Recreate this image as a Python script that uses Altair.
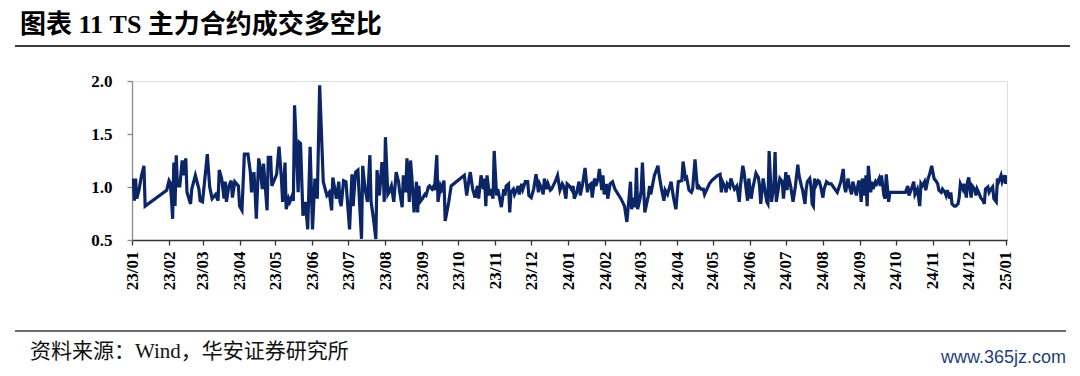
import altair as alt
import pandas as pd

# ---------------- data ----------------
dates = [
    "2023-01-02", "2023-01-03", "2023-01-04", "2023-01-05", "2023-01-07", "2023-01-09", "2023-01-11", "2023-01-12",
    "2023-01-30", "2023-02-01", "2023-02-02", "2023-02-03", "2023-02-04", "2023-02-05", "2023-02-06", "2023-02-07",
    "2023-02-08", "2023-02-10", "2023-02-12", "2023-02-13", "2023-02-15", "2023-02-16", "2023-02-19", "2023-02-20",
    "2023-02-23", "2023-02-26", "2023-02-27",
    "2023-03-01", "2023-03-05", "2023-03-07", "2023-03-09", "2023-03-12", "2023-03-14", "2023-03-15", "2023-03-17",
    "2023-03-19", "2023-03-20", "2023-03-21", "2023-03-23", "2023-03-25", "2023-03-26", "2023-03-28", "2023-03-31",
    "2023-04-01", "2023-04-03", "2023-04-05", "2023-04-08", "2023-04-10", "2023-04-11", "2023-04-13", "2023-04-14",
    "2023-04-15", "2023-04-17", "2023-04-18", "2023-04-20", "2023-04-21", "2023-04-22", "2023-04-24", "2023-04-25",
    "2023-04-27", "2023-04-28",
    "2023-05-02", "2023-05-04", "2023-05-06", "2023-05-07", "2023-05-09", "2023-05-10", "2023-05-12", "2023-05-13",
    "2023-05-15", "2023-05-16", "2023-05-17", "2023-05-20", "2023-05-21", "2023-05-22", "2023-05-24", "2023-05-26",
    "2023-05-28", "2023-05-30",
    "2023-06-01", "2023-06-03", "2023-06-05", "2023-06-07", "2023-06-10", "2023-06-13", "2023-06-15", "2023-06-17",
    "2023-06-18", "2023-06-21", "2023-06-23", "2023-06-24", "2023-06-25", "2023-06-27", "2023-06-29",
    "2023-07-02", "2023-07-04", "2023-07-05", "2023-07-07", "2023-07-09", "2023-07-10", "2023-07-12", "2023-07-13",
    "2023-07-15", "2023-07-17", "2023-07-19", "2023-07-20", "2023-07-22", "2023-07-24", "2023-07-25", "2023-07-27",
    "2023-07-29", "2023-07-30", "2023-07-31",
    "2023-08-01", "2023-08-03", "2023-08-04", "2023-08-06", "2023-08-08", "2023-08-10", "2023-08-12", "2023-08-13",
    "2023-08-15", "2023-08-16", "2023-08-18", "2023-08-19", "2023-08-21", "2023-08-22", "2023-08-23", "2023-08-25",
    "2023-08-27", "2023-08-28", "2023-08-29", "2023-08-30",
    "2023-09-01", "2023-09-03", "2023-09-04", "2023-09-06", "2023-09-07", "2023-09-09", "2023-09-10", "2023-09-11",
    "2023-09-13", "2023-09-14", "2023-09-16", "2023-09-17", "2023-09-19", "2023-09-20", "2023-09-23", "2023-09-25",
    "2023-10-06", "2023-10-08", "2023-10-10", "2023-10-11", "2023-10-13", "2023-10-15", "2023-10-17", "2023-10-18",
    "2023-10-20", "2023-10-22", "2023-10-23", "2023-10-24", "2023-10-25", "2023-10-27", "2023-10-28", "2023-10-30",
    "2023-10-31",
    "2023-11-02", "2023-11-03", "2023-11-06", "2023-11-08", "2023-11-09", "2023-11-10", "2023-11-12", "2023-11-13",
    "2023-11-14", "2023-11-16", "2023-11-17", "2023-11-19", "2023-11-20", "2023-11-21", "2023-11-23", "2023-11-24",
    "2023-11-26", "2023-11-28", "2023-11-29",
    "2023-12-01", "2023-12-03", "2023-12-05", "2023-12-07", "2023-12-08", "2023-12-10", "2023-12-11", "2023-12-12",
    "2023-12-14", "2023-12-15", "2023-12-17", "2023-12-18", "2023-12-21", "2023-12-23", "2023-12-25", "2023-12-27",
    "2023-12-28", "2023-12-30", "2023-12-31",
    "2024-01-02", "2024-01-04", "2024-01-05", "2024-01-06", "2024-01-08", "2024-01-10", "2024-01-11", "2024-01-13",
    "2024-01-15", "2024-01-17", "2024-01-18", "2024-01-20", "2024-01-21", "2024-01-23", "2024-01-24", "2024-01-26",
    "2024-01-27", "2024-01-29", "2024-01-30", "2024-01-31",
    "2024-02-02", "2024-02-03", "2024-02-05", "2024-02-07", "2024-02-09", "2024-02-14", "2024-02-17", "2024-02-19",
    "2024-02-21", "2024-02-22", "2024-02-23", "2024-02-24", "2024-02-26", "2024-02-27", "2024-02-28",
    "2024-03-01", "2024-03-02", "2024-03-03", "2024-03-05", "2024-03-08", "2024-03-09", "2024-03-10", "2024-03-13",
    "2024-03-15", "2024-03-16", "2024-03-17", "2024-03-19", "2024-03-21", "2024-03-22", "2024-03-24", "2024-03-26",
    "2024-03-27", "2024-03-29", "2024-03-31",
    "2024-04-02", "2024-04-05", "2024-04-06", "2024-04-08", "2024-04-09", "2024-04-11", "2024-04-13", "2024-04-14",
    "2024-04-16", "2024-04-18", "2024-04-19", "2024-04-21", "2024-04-23", "2024-04-24", "2024-04-26", "2024-04-28",
    "2024-04-30",
    "2024-05-02", "2024-05-05", "2024-05-07", "2024-05-08", "2024-05-09", "2024-05-11", "2024-05-12", "2024-05-13",
    "2024-05-15", "2024-05-16", "2024-05-18", "2024-05-19", "2024-05-21", "2024-05-23", "2024-05-24", "2024-05-26",
    "2024-05-27", "2024-05-28", "2024-05-30", "2024-05-31",
    "2024-06-02", "2024-06-03", "2024-06-06", "2024-06-08", "2024-06-09", "2024-06-10", "2024-06-12", "2024-06-13",
    "2024-06-15", "2024-06-16", "2024-06-17", "2024-06-19", "2024-06-21", "2024-06-22", "2024-06-23", "2024-06-25",
    "2024-06-26", "2024-06-28", "2024-06-29",
    "2024-07-01", "2024-07-02", "2024-07-03", "2024-07-05", "2024-07-07", "2024-07-09", "2024-07-11", "2024-07-12",
    "2024-07-14", "2024-07-15", "2024-07-17", "2024-07-18", "2024-07-19", "2024-07-21", "2024-07-22", "2024-07-23",
    "2024-07-24", "2024-07-25", "2024-07-26", "2024-07-28", "2024-07-29", "2024-07-30",
    "2024-08-01", "2024-08-02", "2024-08-04", "2024-08-06", "2024-08-08", "2024-08-11", "2024-08-13", "2024-08-16",
    "2024-08-18", "2024-08-19", "2024-08-20", "2024-08-22", "2024-08-23", "2024-08-25", "2024-08-26", "2024-08-27",
    "2024-08-29", "2024-08-30", "2024-08-31",
    "2024-09-01", "2024-09-02", "2024-09-03", "2024-09-05", "2024-09-06", "2024-09-07", "2024-09-08", "2024-09-10",
    "2024-09-11", "2024-09-12", "2024-09-14", "2024-09-15", "2024-09-17", "2024-09-18", "2024-09-19", "2024-09-21",
    "2024-09-22", "2024-09-23", "2024-09-25", "2024-09-26",
    "2024-10-09", "2024-10-11", "2024-10-12", "2024-10-14", "2024-10-16", "2024-10-17", "2024-10-19", "2024-10-21",
    "2024-10-22", "2024-10-23", "2024-10-25", "2024-10-26", "2024-10-28", "2024-10-29", "2024-10-31",
    "2024-11-02", "2024-11-04", "2024-11-05", "2024-11-06", "2024-11-08", "2024-11-09", "2024-11-11", "2024-11-12",
    "2024-11-13", "2024-11-15", "2024-11-16", "2024-11-17", "2024-11-19", "2024-11-20", "2024-11-22", "2024-11-23",
    "2024-11-24", "2024-11-26", "2024-11-27", "2024-11-29", "2024-11-30",
    "2024-12-01", "2024-12-03", "2024-12-04", "2024-12-06", "2024-12-07", "2024-12-08", "2024-12-10", "2024-12-11",
    "2024-12-13", "2024-12-14", "2024-12-15", "2024-12-17", "2024-12-18", "2024-12-19", "2024-12-21", "2024-12-22",
    "2024-12-24", "2024-12-25", "2024-12-26", "2024-12-28", "2024-12-29", "2024-12-31",
    "2025-01-01", "2025-01-02",
]

ratio = [
    1.08, 0.87, 1.08, 0.89, 0.98, 1.11, 1.20, 0.82,
    0.97, 1.06, 1.04, 0.89, 0.70, 1.23, 0.82, 1.30,
    1.01, 1.01, 1.25, 1.11, 1.27, 0.95, 0.84, 0.98,
    1.11, 0.98, 0.87,
    0.86, 1.31, 1.00, 0.89, 0.93, 0.87, 1.16, 1.08,
    0.89, 1.05, 0.86, 1.01, 1.06, 0.90, 1.05, 1.01,
    0.82, 0.78, 1.31, 1.31, 1.14, 0.95, 1.14, 0.95,
    0.70, 1.27, 1.20, 0.98, 1.22, 1.08, 0.78, 1.28,
    1.28, 1.01,
    1.12, 1.38, 1.08, 0.86, 1.23, 0.79, 0.89, 0.86,
    0.92, 0.87, 1.77, 0.95, 1.42, 1.41, 0.73, 0.86,
    0.60, 1.38,
    0.60, 1.08, 0.89, 1.96, 1.05, 0.92, 0.95, 0.78,
    1.09, 0.89, 1.05, 0.86, 0.82, 1.06, 1.05,
    0.60, 1.12, 0.82, 1.14, 1.16, 0.93, 0.51, 1.20,
    0.98, 0.86, 1.30, 0.86, 0.70, 0.51, 1.16, 0.92,
    1.22, 1.22, 0.86,
    1.47, 0.93, 0.95, 1.01, 0.86, 1.14, 1.05, 0.95,
    0.81, 1.11, 0.95, 1.27, 0.86, 1.25, 1.11, 0.76,
    1.05, 0.76, 1.01, 0.86,
    0.89, 0.93, 0.92, 1.00, 1.01, 0.98, 1.00, 0.97,
    1.30, 0.86, 1.01, 0.98, 1.06, 0.68, 0.86, 1.01,
    1.11, 0.92, 1.08, 1.14, 0.98, 0.90, 1.01, 0.89,
    1.11, 0.98, 1.08, 0.82, 1.11, 0.92, 0.98, 0.89,
    1.34,
    0.92, 0.98, 0.81, 0.98, 0.92, 1.01, 1.03, 0.76,
    0.95, 0.98, 0.93, 0.98, 1.01, 0.93, 1.03, 0.98,
    1.05, 1.05, 0.92,
    0.90, 0.98, 1.12, 0.95, 1.03, 0.98, 0.93, 1.08,
    0.98, 1.03, 0.97, 0.98, 1.05, 1.11, 0.97, 1.03,
    1.01, 0.89, 1.03,
    1.01, 0.97, 1.01, 0.89, 0.95, 1.05, 0.92, 1.03,
    1.18, 0.95, 1.01, 1.03, 0.90, 1.08, 1.01, 1.08,
    1.17, 0.97, 1.11, 0.93,
    1.03, 0.89, 1.03, 1.05, 0.98, 0.89, 0.82, 0.67,
    0.92, 1.05, 0.79, 0.90, 0.81, 1.18, 0.79,
    0.89, 0.97, 1.23, 0.76, 0.92, 1.01, 0.93, 1.11,
    1.17, 1.20, 1.11, 0.98, 0.87, 0.97, 0.93, 1.01,
    1.05, 0.90, 0.79,
    1.05, 1.06, 1.24, 1.08, 1.09, 0.97, 0.95, 0.98,
    1.26, 0.98, 1.01, 0.98, 0.98, 0.93, 0.98, 1.03,
    1.06,
    1.08, 1.11, 1.12, 0.95, 1.05, 1.00, 0.95, 1.03,
    1.00, 1.08, 1.01, 0.98, 1.01, 0.86, 1.01, 1.20,
    1.14, 1.05, 0.87, 1.08,
    0.89, 0.97, 1.13, 1.09, 1.01, 0.84, 1.08, 1.01,
    0.86, 0.84, 1.34, 0.86, 1.01, 1.33, 0.86, 1.01,
    1.08, 1.05, 0.89,
    1.14, 0.97, 1.11, 1.01, 0.86, 1.01, 1.21, 1.11,
    1.01, 0.97, 0.84, 0.98, 1.05, 1.08, 1.01, 0.84,
    0.82, 1.08, 1.01, 1.06, 1.05, 1.01,
    0.90, 0.98, 1.05, 1.03, 1.03, 0.98, 0.95, 1.05,
    1.17, 1.01, 0.95, 1.08, 1.01, 0.93, 1.05, 1.01,
    0.92, 1.00, 1.06,
    1.01, 0.86, 1.08, 0.92, 1.11, 0.82, 1.20, 0.95,
    1.05, 0.98, 1.05, 1.03, 1.08, 1.01, 1.11, 0.92,
    0.89, 1.12, 0.86, 0.95,
    0.95, 1.01, 0.92, 0.98, 1.05, 0.93, 0.98, 0.82,
    1.03, 1.01, 1.05, 0.97, 1.08, 1.11, 1.20,
    1.08, 1.05, 1.03, 0.97, 0.95, 0.98, 0.95, 0.92,
    0.97, 0.89, 0.95, 0.84, 0.82, 0.82, 0.84, 0.90,
    1.03, 0.98, 1.03, 0.90, 1.05,
    1.09, 0.90, 1.01, 0.98, 0.92, 0.98, 0.93, 0.90,
    0.87, 0.84, 0.98, 1.00, 0.95, 0.97, 1.00, 0.89,
    0.86, 1.08, 1.05, 1.11, 1.05, 1.11,
    1.03, 1.11,
]

# axis ticks (month starts) and tick labels
tick_months = [(2023, m) for m in range(1, 13)] + [(2024, m) for m in range(1, 13)] + [(2025, 1)]
y_ticks = [0.5, 1.0, 1.5, 2.0]

title_text = "图表 11 TS 主力合约成交多空比"
source_text = "资料来源：Wind，华安证券研究所"
watermark_text = "www.365jz.com"

df = pd.DataFrame({"date": dates, "ratio": ratio})
one = pd.DataFrame({"k": [0]})

# ---------------- layout ----------------
W, H = 875, 159
PAD_L, PAD_T, PAD_R, PAD_B = 124, 73, 65, 128

SERIF = "Liberation Serif, Times New Roman, Noto Sans CJK SC"
CJK = "Liberation Serif, Noto Sans CJK SC"
LINE_COLOR = "#0b2566"

x_enc = alt.X(
    "date:T",
    scale=alt.Scale(
        type="utc",
        domain=[alt.DateTime(year=2023, month=1, date=1, utc=True),
                alt.DateTime(year=2025, month=1, date=2, utc=True)],
    ),
    axis=alt.Axis(
        values=[alt.DateTime(year=yy, month=mm, date=1, utc=True) for yy, mm in tick_months],
        labelExpr="utcFormat(datum.value, '%y/%m')",
        labelAngle=270,
        labelFont=SERIF,
        labelFontWeight="bold",
        labelFontSize=17,
        labelColor="#000000",
        labelPadding=6,
        tickSize=5,
        tickColor="#333333",
        domainColor="#333333",
        domainWidth=1.3,
        tickWidth=1.3,
        grid=False,
        labelOverlap=False,
        title=None,
    ),
)

y_enc = alt.Y(
    "ratio:Q",
    scale=alt.Scale(domain=[0.5, 2.0], nice=False, zero=False),
    axis=alt.Axis(
        values=y_ticks,
        format=".1f",
        labelFont=SERIF,
        labelFontWeight="bold",
        labelFontSize=17,
        labelColor="#000000",
        labelPadding=15,
        tickSize=5,
        tickColor="#888888",
        domainColor="#888888",
        domainWidth=1.3,
        tickWidth=1.3,
        grid=False,
        title=None,
    ),
)

line = alt.Chart(df).mark_line(color=LINE_COLOR, strokeWidth=3.2, clip=True).encode(x=x_enc, y=y_enc)

title = alt.Chart(one).mark_text(
    text=title_text, align="left", baseline="middle", fontSize=26, fontWeight="bold",
    font=CJK, color="#000000",
).encode(x=alt.value(-112), y=alt.value(-56))

top_rule = alt.Chart(one).mark_rule(color="#3a3a3a", strokeWidth=2).encode(
    x=alt.value(-117), x2=alt.value(938), y=alt.value(-35))

bottom_rule = alt.Chart(one).mark_rule(color="#3a3a3a", strokeWidth=1.5).encode(
    x=alt.value(-117), x2=alt.value(934), y=alt.value(250))

source = alt.Chart(one).mark_text(
    text=source_text, align="left", baseline="middle", fontSize=21,
    font=CJK, color="#111111",
).encode(x=alt.value(-102), y=alt.value(271))

watermark = alt.Chart(one).mark_text(
    text=watermark_text, align="right", baseline="middle", fontSize=18,
    font="Liberation Sans Narrow, Liberation Sans", color="#1d3f7c",
).encode(x=alt.value(934), y=alt.value(277))

chart = alt.layer(line, title, top_rule, bottom_rule, source, watermark).properties(
    width=W, height=H,
    autosize=alt.AutoSizeParams(type="none"),
    padding={"left": PAD_L, "top": PAD_T, "right": PAD_R, "bottom": PAD_B},
).configure_view(stroke=None).configure(background="#ffffff")

chart.save("out.html", embed_options={"renderer": "svg", "actions": False})
